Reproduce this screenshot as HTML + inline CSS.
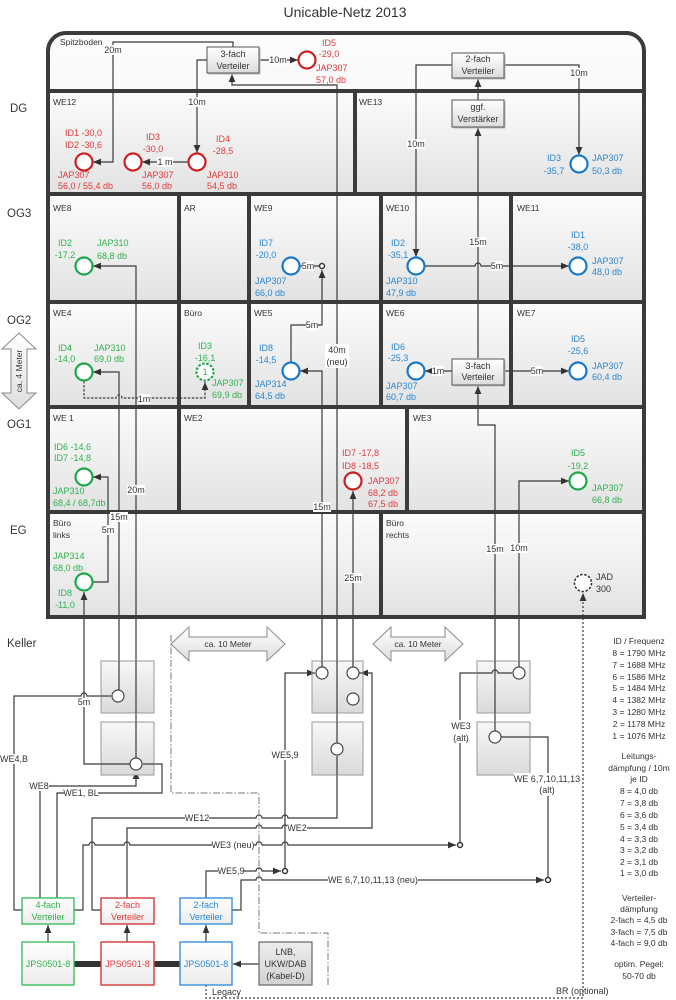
<!DOCTYPE html>
<html><head><meta charset="utf-8">
<style>
html,body{margin:0;padding:0;background:#fff;}
svg{display:block;}
text{font-family:"Liberation Sans",sans-serif;font-size:9px;fill:#333;}
.s{font-size:8.5px;}
.m{text-anchor:middle;}
.r{fill:#e03a3a;}
.g{fill:#2fb24c;}
.b{fill:#2887d2;}
.ln{fill:none;stroke:#3a3a3a;stroke-width:1.2;}
.w{fill:#fff;}
</style></head>
<body>
<svg xmlns="http://www.w3.org/2000/svg" width="676" height="1000" viewBox="0 0 676 1000">
<defs>
<linearGradient id="gR" x1="0" y1="0" x2="0" y2="1"><stop offset="0" stop-color="#fcfcfc"/><stop offset="1" stop-color="#e2e2e2"/></linearGradient>
<linearGradient id="gB" x1="0" y1="0" x2="0" y2="1"><stop offset="0" stop-color="#ffffff"/><stop offset="1" stop-color="#dcdcdc"/></linearGradient>
<linearGradient id="gK" x1="0" y1="0" x2="0" y2="1"><stop offset="0" stop-color="#f7f7f7"/><stop offset="1" stop-color="#dadada"/></linearGradient>
<linearGradient id="gW" x1="0" y1="0" x2="0" y2="1"><stop offset="0" stop-color="#ffffff"/><stop offset="1" stop-color="#ececec"/></linearGradient>
<linearGradient id="gL" x1="0" y1="0" x2="0" y2="1"><stop offset="0" stop-color="#ededed"/><stop offset="1" stop-color="#d2d2d2"/></linearGradient>
<linearGradient id="gA" x1="0" y1="0" x2="0" y2="1"><stop offset="0" stop-color="#ffffff"/><stop offset="1" stop-color="#dedede"/></linearGradient>
<marker id="ar" viewBox="0 0 8 8" refX="8" refY="4" markerWidth="8" markerHeight="8" orient="auto-start-reverse" markerUnits="userSpaceOnUse"><path d="M0,0.6 L8,4 L0,7.4 Z" fill="#333"/></marker>
</defs>

<!-- Title -->
<text x="345" y="17" class="m" style="font-size:14px">Unicable-Netz 2013</text>

<!-- Floor labels -->
<g style="font-size:11.5px">
<text x="10" y="112" style="font-size:11.5px">DG</text>
<text x="7" y="217" style="font-size:11.5px">OG3</text>
<text x="7" y="324" style="font-size:11.5px">OG2</text>
<text x="7" y="428" style="font-size:11.5px">OG1</text>
<text x="10" y="534" style="font-size:11.5px">EG</text>
<text x="7" y="647" style="font-size:11.5px">Keller</text>
</g>

<!-- ca. 4 Meter arrow -->
<polygon points="19,333 36,349 27,349 27,393 36,393 19,409 2,393 11,393 11,349 2,349" fill="url(#gA)" stroke="#8a8a8a" stroke-width="1"/>
<text class="s m" transform="translate(22,371) rotate(-90)">ca. 4 Meter</text>

<!-- Building background -->
<path d="M48,617 V51 A18,18 0 0 1 66,33 H626 A18,18 0 0 1 644,51 V617 Z" fill="url(#gR)"/>
<g fill="url(#gR)">
<rect x="48" y="91" width="307" height="103"/>
<rect x="355" y="91" width="289" height="103"/>
<rect x="48" y="194" width="131" height="108"/>
<rect x="179" y="194" width="70" height="108"/>
<rect x="249" y="194" width="132" height="108"/>
<rect x="381" y="194" width="130" height="108"/>
<rect x="511" y="194" width="133" height="108"/>
<rect x="48" y="302" width="131" height="105"/>
<rect x="179" y="302" width="70" height="105"/>
<rect x="249" y="302" width="132" height="105"/>
<rect x="381" y="302" width="130" height="105"/>
<rect x="511" y="302" width="133" height="105"/>
<rect x="48" y="407" width="131" height="105"/>
<rect x="179" y="407" width="228" height="105"/>
<rect x="407" y="407" width="237" height="105"/>
<rect x="48" y="512" width="333" height="105"/>
<rect x="381" y="512" width="263" height="105"/>
</g>

<!-- Connectors -->
<g class="ln">
<path d="M233,47 V42 H113 V162 H93" marker-end="url(#ar)"/>
<path d="M207,60 H197 V153" marker-end="url(#ar)"/>
<path d="M188,162 H142" marker-end="url(#ar)"/>
<path d="M259,60 H298" marker-end="url(#ar)"/>
<path d="M337,743 V85 H232 V74" marker-end="url(#ar)"/>
<path d="M452,65 H416 V257" marker-end="url(#ar)"/>
<path d="M504,65 H579 V155" marker-end="url(#ar)"/>
<path d="M478,100 V79" marker-end="url(#ar)"/>
<path d="M478,358 V128" marker-end="url(#ar)"/>
<path d="M300,266 H319"/>
<path d="M291,362 V325 H322 V270" marker-end="url(#ar)"/>
<path d="M425,266 H475 a3,3 0 0 1 6,0 H569" marker-end="url(#ar)"/>
<path d="M136,758 V266 H93" marker-end="url(#ar)"/>
<path d="M119,690 V372 H93" marker-end="url(#ar)"/>
<path d="M84,381 V398 H116 a3,3 0 0 1 6,0 H205 V382" marker-end="url(#ar)" stroke-dasharray="2.5,1.5"/>
<path d="M322,667 V371 H300" marker-end="url(#ar)"/>
<path d="M452,371 H425" marker-end="url(#ar)"/>
<path d="M504,371 H569" marker-end="url(#ar)"/>
<path d="M495,731 V425 H478 V386" marker-end="url(#ar)"/>
<path d="M84,592 V764 H130" marker-start="url(#ar)"/>
<path d="M93,582 H108 V477 H93" marker-end="url(#ar)"/>
<path d="M353,667 V491" marker-end="url(#ar)"/>
<path d="M519,667 V481 H569" marker-end="url(#ar)"/>
<path d="M206,985 V998 H583 V593" marker-end="url(#ar)" stroke-dasharray="2,2"/>
<!-- Keller -->
<path d="M22,910 H14 V696 H81 a3,3 0 0 1 6,0 H111" marker-end="url(#ar)"/>
<path d="M40,898 V786 H136 V771" marker-end="url(#ar)"/>
<path d="M57,898 V793 H162 V764 H143" marker-end="url(#ar)"/>
<path d="M101,910 H92 V818 H256 a3,3 0 0 1 6,0 H282 a3,3 0 0 1 6,0 H337 V756" marker-end="url(#ar)"/>
<path d="M127,898 V828 H256 a3,3 0 0 1 6,0 H282 a3,3 0 0 1 6,0 H372 V673 H360" marker-end="url(#ar)"/>
<path d="M74,910 H83 V845 H89 a3,3 0 0 1 6,0 H124 a3,3 0 0 1 6,0 H256 a3,3 0 0 1 6,0 H282 a3,3 0 0 1 6,0 H456" marker-end="url(#ar)"/>
<path d="M206,898 V871 H256 a3,3 0 0 1 6,0 H281" marker-end="url(#ar)"/>
<path d="M232,910 H241 V880 H256 a3,3 0 0 1 6,0 H544" marker-end="url(#ar)"/>
<path d="M285,868 V673 H315" marker-end="url(#ar)"/>
<path d="M460,842 V673 H492 a3,3 0 0 1 6,0 H512" marker-end="url(#ar)"/>
<path d="M548,877 V737 H502" marker-end="url(#ar)"/>
<path d="M48,942 V925" marker-end="url(#ar)"/>
<path d="M127,942 V925" marker-end="url(#ar)"/>
<path d="M206,942 V925" marker-end="url(#ar)"/>
<path d="M259,964 H233" marker-end="url(#ar)"/>
</g>
<!-- dash-dot -->
<path d="M171,635 V793 H259 V933 H328 V985" fill="none" stroke="#7a7a7a" stroke-width="1" stroke-dasharray="7,2,1.5,2"/>
<!-- thick bars -->
<g stroke="#333" stroke-width="6" stroke-linecap="round">
<line x1="76" y1="964" x2="100" y2="964"/>
<line x1="156" y1="964" x2="179" y2="964"/>
</g>

<!-- Walls -->
<g fill="none" stroke="#3b3b3b" stroke-width="4">
<rect x="48" y="91" width="307" height="103"/>
<rect x="355" y="91" width="289" height="103"/>
<rect x="48" y="194" width="131" height="108"/>
<rect x="179" y="194" width="70" height="108"/>
<rect x="249" y="194" width="132" height="108"/>
<rect x="381" y="194" width="130" height="108"/>
<rect x="511" y="194" width="133" height="108"/>
<rect x="48" y="302" width="131" height="105"/>
<rect x="179" y="302" width="70" height="105"/>
<rect x="249" y="302" width="132" height="105"/>
<rect x="381" y="302" width="130" height="105"/>
<rect x="511" y="302" width="133" height="105"/>
<rect x="48" y="407" width="131" height="105"/>
<rect x="179" y="407" width="228" height="105"/>
<rect x="407" y="407" width="237" height="105"/>
<rect x="48" y="512" width="333" height="105"/>
<rect x="381" y="512" width="263" height="105"/>
<path d="M48,617 V51 A18,18 0 0 1 66,33 H626 A18,18 0 0 1 644,51 V617 Z"/>
</g>

<!-- Verteiler boxes (gray) -->
<g>
<rect x="208.5" y="48.5" width="52" height="26" fill="#bdbdbd"/>
<rect x="207" y="47" width="52" height="26" fill="url(#gB)" stroke="#555" stroke-width="1"/>
<rect x="453.5" y="54.5" width="52" height="25" fill="#bdbdbd"/>
<rect x="452" y="53" width="52" height="25" fill="url(#gB)" stroke="#555" stroke-width="1"/>
<rect x="453.5" y="101.5" width="52" height="27" fill="#bdbdbd"/>
<rect x="452" y="100" width="52" height="27" fill="url(#gB)" stroke="#555" stroke-width="1"/>
<rect x="453.5" y="360.5" width="52" height="26" fill="#bdbdbd"/>
<rect x="452" y="359" width="52" height="26" fill="url(#gB)" stroke="#555" stroke-width="1"/>
</g>
<text x="233" y="57" class="m">3-fach</text>
<text x="233" y="69" class="m">Verteiler</text>
<text x="478" y="62" class="m">2-fach</text>
<text x="478" y="74" class="m">Verteiler</text>
<text x="478" y="110" class="m">ggf.</text>
<text x="478" y="122" class="m">Verstärker</text>
<text x="478" y="369" class="m">3-fach</text>
<text x="478" y="380" class="m">Verteiler</text>

<!-- Keller boxes -->
<g stroke="#999" stroke-width="1">
<rect x="101" y="661" width="53" height="52" fill="url(#gK)"/>
<rect x="101" y="722" width="53" height="53" fill="url(#gK)"/>
<rect x="312" y="661" width="51" height="52" fill="url(#gK)"/>
<rect x="312" y="722" width="51" height="53" fill="url(#gK)"/>
<rect x="477" y="661" width="53" height="52" fill="url(#gK)"/>
<rect x="477" y="722" width="53" height="53" fill="url(#gK)"/>
</g>
<!-- re-draw lines passing through keller boxes -->
<g class="ln">
<path d="M119,661 V690"/>
<path d="M136,661 V713"/>
<path d="M136,722 V758"/>
<path d="M322,661 V667"/>
<path d="M337,661 V713"/>
<path d="M337,722 V743"/>
<path d="M353,661 V667"/>
<path d="M495,661 V713"/>
<path d="M495,722 V731"/>
<path d="M519,661 V667"/>
<path d="M477,673 H492 a3,3 0 0 1 6,0 H512"/>
<path d="M337,775 V756"/>
<path d="M143,764 H154"/>
<path d="M501,737 H530"/>
<path d="M359,673 H363"/>
<path d="M312,673 H315"/>
<path d="M101,696 H111"/>
<path d="M101,764 H130"/>
</g>
<g fill="#fff" stroke="#444" stroke-width="1.2">
<circle cx="118" cy="696" r="6"/>
<circle cx="136" cy="764" r="6"/>
<circle cx="322" cy="673" r="6"/>
<circle cx="353" cy="673" r="6"/>
<circle cx="353" cy="699" r="6"/>
<circle cx="337" cy="749" r="6"/>
<circle cx="519" cy="673" r="6"/>
<circle cx="495" cy="737" r="6"/>
</g>
<g fill="#fff" stroke="#333" stroke-width="1.5">
<circle cx="322" cy="266" r="2.5"/>
<circle cx="460" cy="845" r="2.5"/>
<circle cx="285" cy="871" r="2.5"/>
<circle cx="548" cy="880" r="2.5"/>
</g>

<!-- ca. 10 Meter arrows -->
<polygon points="171,644 189,627 189,637 267,637 267,627 285,644 267,661 267,651 189,651 189,661" fill="url(#gA)" stroke="#8a8a8a" stroke-width="1"/>
<text x="228" y="647" class="s m">ca. 10 Meter</text>
<polygon points="373,644 391,627 391,637 445,637 445,627 463,644 445,661 445,651 391,651 391,661" fill="url(#gA)" stroke="#8a8a8a" stroke-width="1"/>
<text x="418" y="647" class="s m">ca. 10 Meter</text>

<!-- Colored circles -->
<g fill="#fff" stroke-width="2.2">
<g stroke="#cc1f1f">
<circle cx="84" cy="162" r="8.5"/>
<circle cx="133" cy="162" r="8.5"/>
<circle cx="197" cy="162" r="8.5"/>
<circle cx="307" cy="60" r="8.5"/>
<circle cx="353" cy="481" r="8.5"/>
</g>
<g stroke="#1ea84a">
<circle cx="84" cy="266" r="8.5"/>
<circle cx="84" cy="372" r="8.5"/>
<circle cx="84" cy="477" r="8.5"/>
<circle cx="84" cy="582" r="8.5"/>
<circle cx="578" cy="481" r="8.5"/>
<circle cx="205" cy="372" r="8.5" stroke-dasharray="2.5,1.6"/>
</g>
<g stroke="#1a78c9">
<circle cx="579" cy="164" r="8.5"/>
<circle cx="291" cy="266" r="8.5"/>
<circle cx="416" cy="266" r="8.5"/>
<circle cx="578" cy="266" r="8.5"/>
<circle cx="291" cy="371" r="8.5"/>
<circle cx="416" cy="371" r="8.5"/>
<circle cx="578" cy="371" r="8.5"/>
</g>
<circle cx="583" cy="583" r="8.5" stroke="#333" stroke-width="1.5" stroke-dasharray="2.5,1.6"/>
</g>

<!-- Colored Verteiler & JPS boxes -->
<g fill="url(#gW)" stroke-width="1.4">
<rect x="22" y="898" width="52" height="26" stroke="#3cc060"/>
<rect x="101" y="898" width="53" height="26" stroke="#d43a3a"/>
<rect x="180" y="898" width="52" height="26" stroke="#3a90d8"/>
<rect x="22" y="942" width="52" height="43" stroke="#3cc060"/>
<rect x="101" y="942" width="53" height="43" stroke="#d43a3a"/>
<rect x="180" y="942" width="52" height="43" stroke="#3a90d8"/>
</g>
<rect x="259" y="942" width="53" height="43" fill="url(#gL)" stroke="#666" stroke-width="1.2"/>
<text x="48" y="908" class="m g">4-fach</text>
<text x="48" y="920" class="m g">Verteiler</text>
<text x="127.5" y="908" class="m r">2-fach</text>
<text x="127.5" y="920" class="m r">Verteiler</text>
<text x="206" y="908" class="m b">2-fach</text>
<text x="206" y="920" class="m b">Verteiler</text>
<text x="48" y="967" class="m g">JPS0501-8</text>
<text x="127.5" y="967" class="m r">JPS0501-8</text>
<text x="206" y="967" class="m b">JPS0501-8</text>
<text x="285.5" y="955" class="m">LNB,</text>
<text x="285.5" y="967" class="m">UKW/DAB</text>
<text x="285.5" y="979" class="m">(Kabel-D)</text>

<!-- Room labels -->
<g>
<text x="60" y="45" class="s">Spitzboden</text>
<text x="53" y="105" class="s">WE12</text>
<text x="359" y="105" class="s">WE13</text>
<text x="53" y="211" class="s">WE8</text>
<text x="184" y="211" class="s">AR</text>
<text x="254" y="211" class="s">WE9</text>
<text x="386" y="211" class="s">WE10</text>
<text x="517" y="211" class="s">WE11</text>
<text x="53" y="316" class="s">WE4</text>
<text x="184" y="316" class="s">Büro</text>
<text x="254" y="316" class="s">WE5</text>
<text x="386" y="316" class="s">WE6</text>
<text x="517" y="316" class="s">WE7</text>
<text x="53" y="421" class="s">WE 1</text>
<text x="184" y="421" class="s">WE2</text>
<text x="413" y="421" class="s">WE3</text>
<text x="53" y="526" class="s">Büro</text>
<text x="53" y="538" class="s">links</text>
<text x="386" y="526" class="s">Büro</text>
<text x="386" y="538" class="s">rechts</text>
</g>

<!-- Data labels -->
<g>
<text x="65" y="136" class="r">ID1 -30,0</text>
<text x="65" y="148" class="r">ID2 -30,6</text>
<text x="58" y="178" class="r">JAP307</text>
<text x="58" y="189" class="r">56,0 / 55,4 db</text>
<text x="153" y="140" class="m r">ID3</text>
<text x="153" y="152" class="m r">-30,0</text>
<text x="142" y="178" class="r">JAP307</text>
<text x="142" y="189" class="r">56,0 db</text>
<text x="223" y="142" class="m r">ID4</text>
<text x="223" y="154" class="m r">-28,5</text>
<text x="207" y="178" class="r">JAP310</text>
<text x="207" y="189" class="r">54,5 db</text>
<text x="329" y="46" class="m r">ID5</text>
<text x="329" y="57" class="m r">-29,0</text>
<text x="316" y="71" class="r">JAP307</text>
<text x="316" y="83" class="r">57,0 db</text>

<text x="554" y="161" class="m b">ID3</text>
<text x="554" y="174" class="m b">-35,7</text>
<text x="592" y="161" class="b">JAP307</text>
<text x="592" y="174" class="b">50,3 db</text>

<text x="65" y="246" class="m g">ID2</text>
<text x="65" y="258" class="m g">-17,2</text>
<text x="97" y="246" class="g">JAP310</text>
<text x="97" y="259" class="g">68,8 db</text>

<text x="266" y="246" class="m b">ID7</text>
<text x="266" y="258" class="m b">-20,0</text>
<text x="255" y="284" class="b">JAP307</text>
<text x="255" y="296" class="b">66,0 db</text>

<text x="398" y="246" class="m b">ID2</text>
<text x="398" y="258" class="m b">-35,1</text>
<text x="386" y="284" class="b">JAP310</text>
<text x="386" y="296" class="b">47,9 db</text>

<text x="578" y="238" class="m b">ID1</text>
<text x="578" y="250" class="m b">-38,0</text>
<text x="592" y="264" class="b">JAP307</text>
<text x="592" y="275" class="b">48,0 db</text>

<text x="65" y="351" class="m g">ID4</text>
<text x="65" y="362" class="m g">-14,0</text>
<text x="94" y="351" class="g">JAP310</text>
<text x="94" y="362" class="g">69,0 db</text>

<text x="205" y="349" class="m g">ID3</text>
<text x="205" y="361" class="m g">-16,1</text>
<text x="205" y="375" class="m g">1</text>
<text x="212" y="386" class="g">JAP307</text>
<text x="212" y="398" class="g">69,9 db</text>

<text x="266" y="351" class="m b">ID8</text>
<text x="266" y="363" class="m b">-14,5</text>
<text x="255" y="387" class="b">JAP314</text>
<text x="255" y="399" class="b">64,5 db</text>

<text x="398" y="350" class="m b">ID6</text>
<text x="398" y="361" class="m b">-25,3</text>
<text x="386" y="389" class="b">JAP307</text>
<text x="386" y="400" class="b">60,7 db</text>

<text x="578" y="342" class="m b">ID5</text>
<text x="578" y="354" class="m b">-25,6</text>
<text x="592" y="369" class="b">JAP307</text>
<text x="592" y="380" class="b">60,4 db</text>

<text x="54" y="450" class="g">ID6 -14,6</text>
<text x="54" y="461" class="g">ID7 -14,8</text>
<text x="53" y="494" class="g">JAP310</text>
<text x="53" y="506" class="g">68,4 / 68,7db</text>

<text x="342" y="456" class="r">ID7 -17,8</text>
<text x="342" y="469" class="r">ID8 -18,5</text>
<text x="368" y="484" class="r">JAP307</text>
<text x="368" y="496" class="r">68,2 db</text>
<text x="368" y="507" class="r">67,5 db</text>

<text x="578" y="456" class="m g">ID5</text>
<text x="578" y="469" class="m g">-19,2</text>
<text x="592" y="491" class="g">JAP307</text>
<text x="592" y="503" class="g">66,8 db</text>

<text x="53" y="559" class="g">JAP314</text>
<text x="53" y="571" class="g">68,0 db</text>
<text x="65" y="596" class="m g">ID8</text>
<text x="65" y="608" class="m g">-11,0</text>

<text x="596" y="580">JAD</text>
<text x="596" y="592">300</text>
</g>

<!-- Line labels with white background -->
<g class="w">
<rect x="104" y="45" width="18" height="10"/>
<rect x="188" y="97" width="18" height="10"/>
<rect x="157" y="157" width="16" height="10"/>
<rect x="269" y="55" width="18" height="10"/>
<rect x="325" y="344" width="24" height="24"/>
<rect x="407" y="139" width="18" height="10"/>
<rect x="570" y="68" width="18" height="10"/>
<rect x="469" y="237" width="18" height="10"/>
<rect x="302" y="261" width="12" height="10"/>
<rect x="306" y="320" width="12" height="10"/>
<rect x="491" y="261" width="12" height="10"/>
<rect x="127" y="485" width="18" height="10"/>
<rect x="110" y="512" width="18" height="10"/>
<rect x="102" y="525" width="12" height="10"/>
<rect x="138" y="394" width="12" height="10"/>
<rect x="313" y="502" width="18" height="10"/>
<rect x="432" y="366" width="12" height="10"/>
<rect x="531" y="366" width="12" height="10"/>
<rect x="486" y="544" width="18" height="10"/>
<rect x="510" y="543" width="18" height="10"/>
<rect x="344" y="573" width="18" height="10"/>
<rect x="78" y="698" width="12" height="9"/>
<rect x="1" y="754" width="27" height="10"/>
<rect x="30" y="781" width="19" height="10"/>
<rect x="64" y="788" width="34" height="10"/>
<rect x="185" y="813" width="24" height="10"/>
<rect x="287" y="823" width="20" height="10"/>
<rect x="212" y="840" width="42" height="10"/>
<rect x="218" y="866" width="26" height="10"/>
<rect x="328" y="875" width="90" height="10"/>
<rect x="272" y="750" width="26" height="10"/>
<rect x="450" y="720" width="22" height="23"/>
<rect x="514" y="773" width="66" height="23"/>
</g>
<g>
<text x="113" y="53" class="m">20m</text>
<text x="197" y="105" class="m">10m</text>
<text x="165" y="165" class="m">1 m</text>
<text x="278" y="63" class="m">10m</text>
<text x="337" y="353" class="m">40m</text>
<text x="337" y="365" class="m">(neu)</text>
<text x="416" y="147" class="m">10m</text>
<text x="579" y="76" class="m">10m</text>
<text x="478" y="245" class="m">15m</text>
<text x="308" y="269" class="m">5m</text>
<text x="312" y="328" class="m">5m</text>
<text x="497" y="269" class="m">5m</text>
<text x="136" y="493" class="m">20m</text>
<text x="119" y="520" class="m">15m</text>
<text x="108" y="533" class="m">5m</text>
<text x="144" y="402" class="m">1m</text>
<text x="322" y="510" class="m">15m</text>
<text x="438" y="374" class="m">1m</text>
<text x="537" y="374" class="m">5m</text>
<text x="495" y="552" class="m">15m</text>
<text x="519" y="551" class="m">10m</text>
<text x="353" y="581" class="m">25m</text>
<text x="84" y="705" class="m">5m</text>
<text x="14" y="762" class="m">WE4,B</text>
<text x="39" y="789" class="m">WE8</text>
<text x="81" y="796" class="m">WE1, BL</text>
<text x="197" y="821" class="m">WE12</text>
<text x="297" y="831" class="m">WE2</text>
<text x="233" y="848" class="m">WE3 (neu)</text>
<text x="231" y="874" class="m">WE5,9</text>
<text x="373" y="883" class="m">WE 6,7,10,11,13 (neu)</text>
<text x="285" y="758" class="m">WE5,9</text>
<text x="461" y="729" class="m">WE3</text>
<text x="461" y="741" class="m">(alt)</text>
<text x="547" y="782" class="m">WE 6,7,10,11,13</text>
<text x="547" y="793" class="m">(alt)</text>
<text x="212" y="995">Legacy</text>
<text x="556" y="994">BR (optional)</text>
</g>

<!-- Legend -->
<g class="s">
<text x="639" y="644" class="s m">ID / Frequenz</text>
<text x="639" y="656" class="s m">8 = 1790 MHz</text>
<text x="639" y="668" class="s m">7 = 1688 MHz</text>
<text x="639" y="680" class="s m">6 = 1586 MHz</text>
<text x="639" y="691" class="s m">5 = 1484 MHz</text>
<text x="639" y="703" class="s m">4 = 1382 MHz</text>
<text x="639" y="715" class="s m">3 = 1280 MHz</text>
<text x="639" y="727" class="s m">2 = 1178 MHz</text>
<text x="639" y="739" class="s m">1 = 1076 MHz</text>
<text x="639" y="759" class="s m">Leitungs-</text>
<text x="639" y="771" class="s m">dämpfung / 10m</text>
<text x="639" y="782" class="s m">je ID</text>
<text x="639" y="794" class="s m">8 = 4,0 db</text>
<text x="639" y="806" class="s m">7 = 3,8 db</text>
<text x="639" y="818" class="s m">6 = 3,6 db</text>
<text x="639" y="830" class="s m">5 = 3,4 db</text>
<text x="639" y="842" class="s m">4 = 3,3 db</text>
<text x="639" y="853" class="s m">3 = 3,2 db</text>
<text x="639" y="865" class="s m">2 = 3,1 db</text>
<text x="639" y="876" class="s m">1 = 3,0 db</text>
<text x="639" y="901" class="s m">Verteiler-</text>
<text x="639" y="912" class="s m">dämpfung</text>
<text x="639" y="923" class="s m">2-fach = 4,5 db</text>
<text x="639" y="935" class="s m">3-fach = 7,5 db</text>
<text x="639" y="946" class="s m">4-fach = 9,0 db</text>
<text x="639" y="967" class="s m">optim. Pegel:</text>
<text x="639" y="979" class="s m">50-70 db</text>
</g>
</svg>
</body></html>
